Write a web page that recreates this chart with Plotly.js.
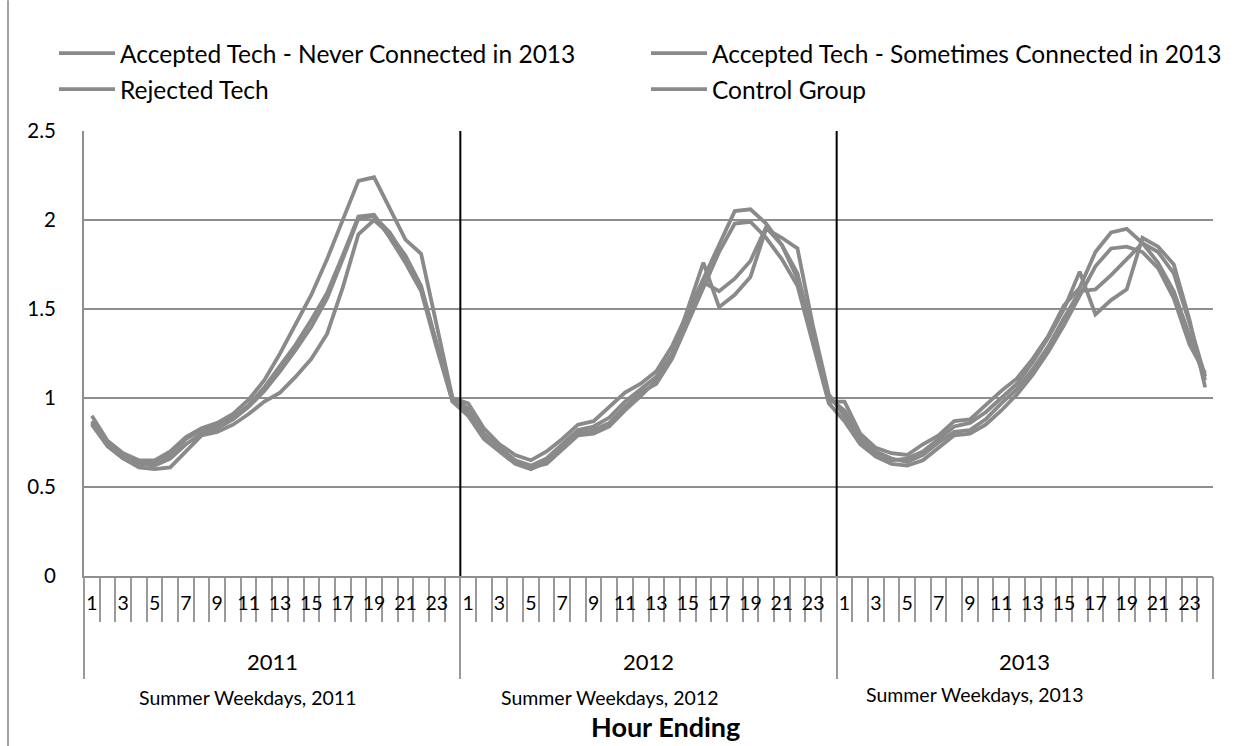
<!DOCTYPE html>
<html>
<head>
<meta charset="utf-8">
<script src="https://cdn.plot.ly/plotly-3.0.1.min.js"></script>
<style>html,body{margin:0;padding:0;background:#fff;}#chart{width:1238px;height:746px;}</style>
</head>
<body>
<div id="chart"></div>
<script>
// ---- categories ----
const years = ['2011', '2012', '2013'];
const hours = [1,2,3,4,5,6,7,8,9,10,11,12,13,14,15,16,17,18,19,20,21,22,23,24];
const yearNotes = ['Summer Weekdays, 2011', 'Summer Weekdays, 2012', 'Summer Weekdays, 2013'];
const yTickLabels = ['0', '0.5', '1', '1.5', '2', '2.5'];
const yTickValues = [0, 0.5, 1, 1.5, 2, 2.5];

// ---- series (hourly values, 2011 | 2012 | 2013) ----
const neverConnected = [
  0.90,0.76,0.69,0.65,0.65,0.70,0.78,0.83,0.86,0.91,0.99,1.10,1.25,1.42,1.58,1.78,2.00,2.22,2.24,2.07,1.89,1.81,1.40,1.00,
  0.97,0.83,0.74,0.68,0.65,0.70,0.77,0.85,0.87,0.95,1.03,1.08,1.15,1.29,1.48,1.66,1.85,2.05,2.06,1.98,1.86,1.67,1.32,0.98,
  0.98,0.80,0.72,0.69,0.68,0.74,0.79,0.87,0.88,0.96,1.04,1.11,1.22,1.35,1.52,1.62,1.82,1.93,1.95,1.87,1.76,1.60,1.35,1.10
];
const sometimesConnected = [
  0.86,0.73,0.66,0.61,0.60,0.61,0.70,0.79,0.81,0.85,0.91,0.98,1.03,1.12,1.22,1.36,1.62,1.92,2.00,1.92,1.80,1.63,1.30,0.98,
  0.92,0.79,0.71,0.64,0.61,0.63,0.71,0.79,0.80,0.84,0.93,1.01,1.10,1.24,1.50,1.76,1.51,1.58,1.68,1.95,1.90,1.84,1.40,1.02,
  0.90,0.76,0.68,0.65,0.66,0.70,0.77,0.84,0.86,0.92,1.00,1.08,1.20,1.34,1.50,1.71,1.47,1.55,1.61,1.90,1.85,1.75,1.44,1.06
];
const rejectedTech = [
  0.87,0.74,0.67,0.63,0.62,0.66,0.74,0.80,0.83,0.88,0.95,1.04,1.15,1.27,1.40,1.56,1.78,2.01,2.02,1.93,1.79,1.62,1.30,1.00,
  0.94,0.80,0.72,0.65,0.62,0.66,0.74,0.82,0.84,0.89,0.98,1.05,1.12,1.25,1.44,1.65,1.60,1.67,1.77,1.96,1.86,1.70,1.34,1.00,
  0.93,0.78,0.70,0.66,0.64,0.68,0.75,0.81,0.82,0.88,0.97,1.05,1.16,1.29,1.45,1.60,1.61,1.69,1.78,1.87,1.82,1.70,1.42,1.12
];
const controlGroup = [
  0.85,0.73,0.66,0.64,0.64,0.68,0.77,0.82,0.84,0.89,0.96,1.06,1.18,1.30,1.44,1.59,1.80,2.02,2.03,1.90,1.76,1.60,1.28,0.98,
  0.90,0.77,0.70,0.63,0.60,0.64,0.72,0.80,0.82,0.86,0.95,1.03,1.08,1.22,1.42,1.62,1.82,1.98,1.99,1.90,1.78,1.63,1.30,0.97,
  0.87,0.74,0.67,0.63,0.62,0.65,0.72,0.79,0.80,0.85,0.93,1.02,1.13,1.26,1.41,1.57,1.74,1.84,1.85,1.82,1.73,1.56,1.30,1.14
];

// ---- build category positions ----
const nH = hours.length;
const xIdx = [];
const tickVals = [], tickText = [];
years.forEach((yr, yi) => {
  hours.forEach((h, hi) => {
    const i = yi * nH + hi;
    xIdx.push(i);
    if (h % 2 === 1) { tickVals.push(i); tickText.push(String(h)); }
  });
});
const catBoundaries = [];
for (let k = 0; k <= xIdx.length; k++) catBoundaries.push(k - 0.5);
const yearBoundaries = years.map((y, yi) => yi * nH - 0.5).concat([years.length * nH - 0.5]);

const FONT = 'Lato, "Open Sans", sans-serif';
const LINE_COLOR = '#8a8a8a';
const GRID = '#8e8e8e';

function series(name, vals, legend) {
  return {
    type: 'scatter', mode: 'lines', name: name, x: xIdx, y: vals,
    line: { color: LINE_COLOR, width: 3.8 }, legend: legend, hoverinfo: 'skip'
  };
}

// year divider lines (black) inside the plot, drawn on the overlay axis
const divX = [], divY = [];
yearBoundaries.slice(1, -1).forEach(b => { divX.push(b, b, null); divY.push(0, 2.5, null); });

const traces = [
  series('Accepted Tech - Never Connected in 2013', neverConnected, 'legend'),
  series('Accepted Tech - Sometimes Connected in 2013', sometimesConnected, 'legend'),
  series('Rejected Tech', rejectedTech, 'legend2'),
  series('Control Group', controlGroup, 'legend2'),
  { type: 'scatter', mode: 'lines', x: divX, y: divY, xaxis: 'x2', yaxis: 'y',
    line: { color: '#000', width: 2 }, showlegend: false, hoverinfo: 'skip' }
];

const annotations = [];
years.forEach((yr, yi) => {
  annotations.push({
    xref: 'x', yref: 'paper', x: yi * nH + (nH - 1) / 2, y: -0.193,
    text: yr, showarrow: false, xanchor: 'center', yanchor: 'middle',
    font: { family: FONT, size: 22, color: '#000' }
  });
});
const notePos = [[0.145, -0.274], [0.466, -0.274], [0.789, -0.267]];
yearNotes.forEach((t, i) => {
  annotations.push({
    xref: 'paper', yref: 'paper', x: notePos[i][0], y: notePos[i][1],
    text: t, showarrow: false, xanchor: 'center', yanchor: 'middle',
    font: { family: FONT, size: 19.5, color: '#000' }
  });
});
annotations.push({
  xref: 'paper', yref: 'paper', x: 0.515, y: -0.339, text: '<b>Hour Ending</b>',
  showarrow: false, xanchor: 'center', yanchor: 'middle',
  font: { family: FONT, size: 27, color: '#000' }
});

const legendBase = {
  orientation: 'h', xanchor: 'left', yanchor: 'middle', x: -0.0072,
  entrywidth: 521, entrywidthmode: 'pixels', itemwidth: 56,
  font: { family: FONT, size: 24.5, color: '#000' }, bgcolor: 'rgba(0,0,0,0)',
  traceorder: 'normal', itemclick: false, itemdoubleclick: false
};

const layout = {
  width: 1238, height: 746,
  margin: { l: 84, r: 25, t: 131, b: 170 },
  paper_bgcolor: '#fff', plot_bgcolor: '#fff',
  showlegend: true,
  legend: Object.assign({}, legendBase, { y: 1.175 }),
  legend2: Object.assign({}, legendBase, { y: 1.094 }),
  xaxis: {
    range: [-0.5, xIdx.length - 0.5], tickmode: 'array', tickvals: tickVals, ticktext: tickText,
    ticks: '', showgrid: false, zeroline: false, showline: true, linecolor: GRID, linewidth: 2,
    tickfont: { family: FONT, size: 19.5, color: '#000' }, ticklabelstandoff: 9,
    minor: { tickmode: 'array', tickvals: catBoundaries, ticks: 'outside', ticklen: 44,
             tickwidth: 2, tickcolor: '#9a9a9a', showgrid: false }
  },
  xaxis2: {
    overlaying: 'x', anchor: 'y', side: 'bottom', range: [-0.5, xIdx.length - 0.5],
    tickmode: 'array', tickvals: yearBoundaries, ticks: 'outside', ticklen: 102,
    tickwidth: 2, tickcolor: '#9a9a9a', showticklabels: false, showgrid: false,
    zeroline: false, showline: false
  },
  yaxis: {
    range: [0, 2.5], tickmode: 'array', tickvals: yTickValues, ticktext: yTickLabels,
    showgrid: true, gridcolor: GRID, gridwidth: 2, zeroline: false,
    showline: true, linecolor: GRID, linewidth: 2, ticks: '',
    tickfont: { family: FONT, size: 20.5, color: '#000' }, ticklabelstandoff: 22
  },
  annotations: annotations,
  shapes: [
    { type: 'line', xref: 'paper', yref: 'paper', x0: -0.0673, x1: -0.0673, y0: -0.382, y1: 1.294,
      line: { color: '#a0a0a0', width: 2 } }
  ]
};

Plotly.newPlot('chart', traces, layout, { staticPlot: true, displayModeBar: false });
</script>
</body>
</html>
